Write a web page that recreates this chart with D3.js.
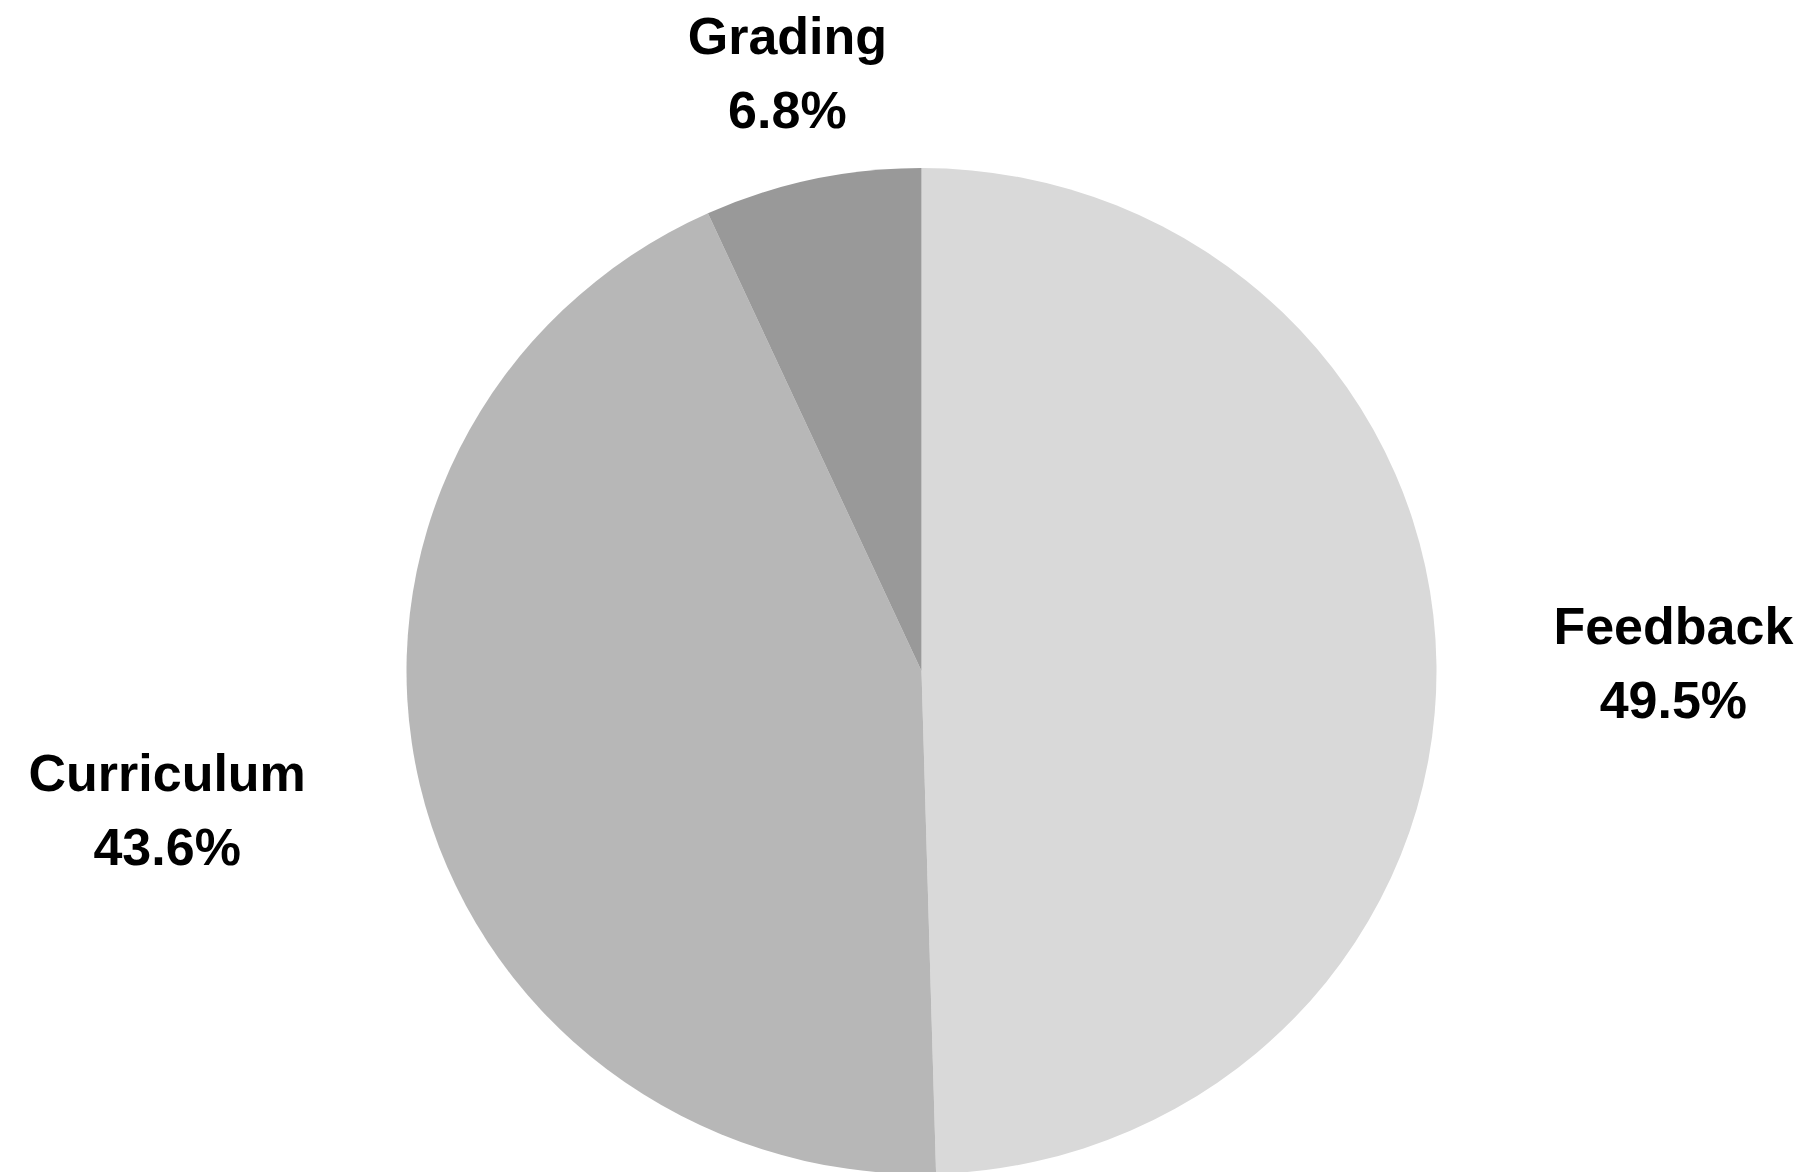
<!DOCTYPE html>
<html>
<head>
<meta charset="utf-8">
<script src="https://cdn.jsdelivr.net/npm/d3@7/dist/d3.min.js"></script>
<style>
  html, body { margin: 0; padding: 0; background: #fff; }
  svg { display: block; }
  text { font-family: "Liberation Sans", Arial, sans-serif; font-weight: bold; }
</style>
</head>
<body>
<svg id="chart" width="1806" height="1172"></svg>
<script>
// Data
const categories = ["Feedback", "Curriculum", "Grading"];
const values = [49.5, 43.6, 6.8];
const colors = ["#d9d9d9", "#b7b7b7", "#999999"];

// Layout
const W = 1806, H = 1172;
const cx = 921.5, cy = 671;
const rx = 515, ry = 503;
const labelRx = 632, labelRy = 612;
const fontSize = 52, lineGap = 74;

const svg = d3.select("#chart");
const data = categories.map((c, i) => ({ name: c, value: values[i], color: colors[i] }));

const pie = d3.pie().sort(null).value(d => d.value);
const arcs = pie(data);
const arc = d3.arc().innerRadius(0).outerRadius(rx);

svg.append("g")
  .attr("transform", `translate(${cx},${cy}) scale(1,${ry / rx})`)
  .selectAll("path")
  .data(arcs)
  .join("path")
  .attr("d", arc)
  .attr("fill", d => d.data.color);

const labels = svg.append("g");
arcs.forEach(d => {
  const mid = (d.startAngle + d.endAngle) / 2;
  const s = Math.sin(mid), c = Math.cos(mid);
  const ax = cx + labelRx * s;
  const ay = cy - labelRy * c;
  const t = labels.append("text")
    .attr("text-anchor", "middle")
    .attr("font-size", fontSize)
    .attr("fill", "#000");
  const l1 = t.append("tspan").attr("y", ay - 18.5).text(d.data.name);
  const l2 = t.append("tspan").attr("y", ay - 18.5 + lineGap).text(d3.format(".1f")(d.data.value) + "%");
  const w = Math.max(l1.node().getComputedTextLength(), l2.node().getComputedTextLength());
  let bx = ax;
  if (Math.abs(s) > 0.7) bx = s > 0 ? ax + w / 2 : ax - w / 2;
  l1.attr("x", bx);
  l2.attr("x", bx);
});
</script>
</body>
</html>
